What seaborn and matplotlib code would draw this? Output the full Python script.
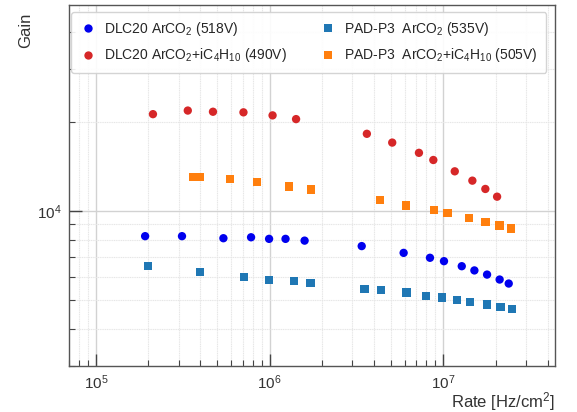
import matplotlib
matplotlib.use('Agg')
from matplotlib import pyplot as plt
from matplotlib.ticker import LogLocator, NullFormatter
import numpy as np
import pandas as pd
import seaborn as sns

sns.set_style('white')
plt.rcParams['font.family'] = ['Liberation Sans', 'DejaVu Sans']
plt.rcParams['mathtext.default'] = 'regular'

# DLC20 ArCO2 (518V)
dlc_ar_rate = [1.92e5, 3.13e5, 5.42e5, 7.82e5, 9.93e5, 1.235e6, 1.59e6,
               3.39e6, 5.91e6, 8.38e6, 1.009e7, 1.277e7, 1.51e7, 1.786e7, 2.11e7, 2.38e7]
dlc_ar_gain = [8220, 8220, 8090, 8150, 8050, 8050, 7940,
               7610, 7220, 6950, 6770, 6510, 6300, 6100, 5870, 5690]

# DLC20 ArCO2+iC4H10 (490V)
dlc_iso_rate = [2.13e5, 3.38e5, 4.72e5, 7.07e5, 1.04e6, 1.42e6,
                3.63e6, 5.08e6, 7.24e6, 8.76e6, 1.164e7, 1.47e7, 1.746e7, 2.04e7]
dlc_iso_gain = [21200, 21800, 21600, 21500, 21000, 20400,
                18200, 17000, 15700, 14850, 13600, 12650, 11860, 11170]

# PAD-P3 ArCO2 (535V)
pad_ar_rate = [2.00e5, 3.96e5, 7.10e5, 9.93e5, 1.379e6, 1.72e6,
               3.52e6, 4.37e6, 6.15e6, 7.92e6, 9.79e6, 1.2e7, 1.42e7, 1.79e7, 2.13e7, 2.49e7]
pad_ar_gain = [6510, 6220, 5980, 5840, 5800, 5720,
               5460, 5410, 5310, 5160, 5100, 5000, 4940, 4840, 4750, 4670]

# PAD-P3 ArCO2+iC4H10 (505V)
pad_iso_rate = [3.62e5, 3.96e5, 5.90e5, 8.44e5, 1.29e6, 1.73e6,
                4.33e6, 6.10e6, 8.81e6, 1.055e7, 1.406e7, 1.746e7, 2.11e7, 2.455e7]
pad_iso_gain = [13000, 13000, 12800, 12490, 12090, 11800,
                10860, 10420, 10050, 9850, 9470, 9180, 8920, 8720]

labels = [r'DLC20 ArCO$_2$ (518V)',
          r'DLC20 ArCO$_2$+iC$_4$H$_{10}$ (490V)',
          r'PAD-P3  ArCO$_2$ (535V)',
          r'PAD-P3  ArCO$_2$+iC$_4$H$_{10}$ (505V)']
colors = ['#0000ee', '#d62728', '#1f77b4', '#ff7f0e']
markers = ['o', 'o', 's', 's']

series = [(dlc_ar_rate, dlc_ar_gain), (dlc_iso_rate, dlc_iso_gain),
          (pad_ar_rate, pad_ar_gain), (pad_iso_rate, pad_iso_gain)]
df = pd.concat([pd.DataFrame({'rate': r, 'gain': g, 'sample': lab})
                for (r, g), lab in zip(series, labels)], ignore_index=True)

fig = plt.figure(figsize=(5.77, 4.12), dpi=100)
ax = fig.add_axes([0.1196, 0.1117, 0.8424, 0.8763])

sns.scatterplot(data=df, x='rate', y='gain', hue='sample', style='sample',
                hue_order=labels, style_order=labels,
                palette=dict(zip(labels, colors)), markers=dict(zip(labels, markers)),
                s=36, edgecolor='none', linewidth=0, ax=ax, zorder=3)

ax.set_xscale('log')
ax.set_yscale('log')
ax.set_xlim(7.0e4, 4.4e7)
ax.set_ylim(3000, 4.95e4)

ax.yaxis.set_minor_locator(LogLocator(base=10, subs=np.arange(2, 10)))
ax.yaxis.set_minor_formatter(NullFormatter())
ax.xaxis.set_minor_locator(LogLocator(base=10, subs=np.arange(2, 10)))
ax.xaxis.set_minor_formatter(NullFormatter())

ax.grid(True, which='major', color='#d2d2d2', linewidth=1.0, zorder=0)
ax.grid(True, which='minor', color='#e6e6e6', linewidth=0.8, linestyle=(0, (1, 0.6)), zorder=0)
ax.set_axisbelow(True)

ax.tick_params(which='both', direction='in', top=False, right=False, left=True, bottom=True,
               color='#444444', labelsize=11, labelcolor='#333333')
ax.tick_params(which='major', length=9, width=1, pad=5)
ax.tick_params(which='minor', length=4.5, width=0.8)
for sp in ax.spines.values():
    sp.set_color('#555555')
    sp.set_linewidth(1.0)

ax.set_xlabel(r'Rate [Hz/cm$^2$]', fontsize=12, color='#333333')
ax.xaxis.set_label_coords(1.0, -0.066)
ax.xaxis.label.set_horizontalalignment('right')
ax.xaxis.label.set_verticalalignment('top')
ax.set_ylabel('Gain', fontsize=12, color='#333333')
ax.yaxis.set_label_coords(-0.073, 0.98)
ax.yaxis.label.set_horizontalalignment('right')

handles, labs = ax.get_legend_handles_labels()
ax.legend(handles, labs, ncol=2, loc='upper left', bbox_to_anchor=(0.004, 0.981, 0.978, 0),
          mode='expand', fontsize=10, frameon=True, edgecolor='#d0d0d0', framealpha=0.9,
          fancybox=True, handlelength=1.2, handletextpad=0.6, borderpad=0.6,
          labelspacing=0.6, borderaxespad=0)

fig.savefig('out.png', dpi=100)
